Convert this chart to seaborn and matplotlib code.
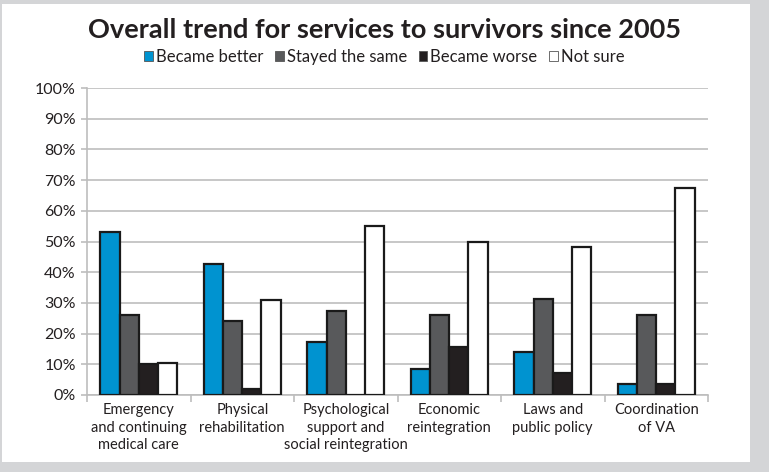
import matplotlib
matplotlib.use("Agg")
import matplotlib.pyplot as plt
from matplotlib.patches import Rectangle
from matplotlib.ticker import FixedLocator, FuncFormatter
import pandas as pd
import seaborn as sns

categories = [
    "Emergency\nand continuing\nmedical care",
    "Physical\nrehabilitation",
    "Psychological\nsupport and\nsocial reintegration",
    "Economic\nreintegration",
    "Laws and\npublic policy",
    "Coordination\nof VA",
]
series_names = ["Became better", "Stayed the same", "Became worse", "Not sure"]
became_better = [53.0, 42.7, 17.2, 8.6, 13.9, 3.6]
stayed_same = [26.0, 24.0, 27.4, 26.0, 31.2, 26.0]
became_worse = [10.2, 1.9, 0.0, 15.7, 7.3, 3.6]
not_sure = [10.4, 31.0, 55.0, 50.0, 48.3, 67.3]
y_ticks = [0, 10, 20, 30, 40, 50, 60, 70, 80, 90, 100]

colors = ["#0093d0", "#58595b", "#231f20", "#ffffff"]

df = pd.DataFrame({
    "category": categories * 4,
    "series": [s for s in series_names for _ in categories],
    "value": became_better + stayed_same + became_worse + not_sure,
})

sns.set_theme(style="white")
plt.rcParams["font.family"] = ["Lato", "DejaVu Sans"]

fig = plt.figure(figsize=(7.69, 4.72), dpi=100)
fig.patch.set_facecolor("#d4d5d7")
fig.patches.append(Rectangle((2 / 769, 1 - 462 / 472), 748 / 769, 458 / 472,
                             transform=fig.transFigure, facecolor="white",
                             edgecolor="none", zorder=-10))

ax = fig.add_axes([87 / 769, 1 - 395 / 472, 621 / 769, 307 / 472])
ax.set_facecolor("none")

sns.barplot(data=df, x="category", y="value", hue="series",
            palette=colors, order=categories, hue_order=series_names,
            width=0.74, gap=0, saturation=1, edgecolor="#1a1a1a", linewidth=1.6,
            legend=False, ax=ax, zorder=3)

ax.set_ylim(0, 100)
ax.set_xlim(-0.5, len(categories) - 0.5)
ax.set_yticks(y_ticks)
ax.yaxis.set_major_formatter(FuncFormatter(lambda v, p: f"{int(v)}%"))
ax.yaxis.grid(True, color="#bdbdbd", linewidth=1.2, zorder=0)
ax.set_axisbelow(True)
ax.set_xlabel("")
ax.set_ylabel("")

for side in ["top", "right"]:
    ax.spines[side].set_visible(False)
for side in ["left", "bottom"]:
    ax.spines[side].set_color("#bdbdbd")
    ax.spines[side].set_linewidth(1.2)

ax.tick_params(axis="y", length=4, width=1.2, color="#bdbdbd", labelsize=11.5,
               labelcolor="#231f20", pad=4, left=True)
ax.tick_params(axis="x", which="major", length=0, labelsize=10.5,
               labelcolor="#231f20", pad=6)
ax.xaxis.set_minor_locator(FixedLocator([i - 0.5 for i in range(len(categories) + 1)]))
ax.tick_params(axis="x", which="minor", bottom=True, length=5, width=1.2, color="#bdbdbd")
for lbl in ax.get_xticklabels():
    lbl.set_linespacing(1.3)

fig.text(0.5, 1 - 30 / 472, "Overall trend for services to survivors since 2005",
         ha="center", va="center", fontsize=19.5, fontweight="bold", color="#231f20")

handles = [Rectangle((0, 0), 1, 1, facecolor=c, edgecolor="#555555", linewidth=0.6)
           for c in colors]
leg = fig.legend(handles, series_names, loc="center", bbox_to_anchor=(0.5, 1 - 57 / 472),
                 ncol=4, frameon=False, fontsize=12, handlelength=0.5,
                 handleheight=0.5, handletextpad=0.2, columnspacing=0.7)
for t in leg.get_texts():
    t.set_color("#231f20")

fig.savefig("out.png", dpi=100, facecolor=fig.get_facecolor())
